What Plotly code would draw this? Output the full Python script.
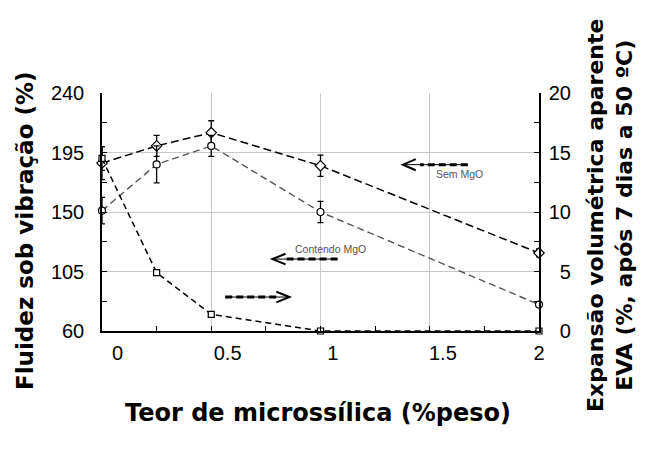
import plotly.graph_objects as go

# ---- data ----
microssilica = [0, 0.25, 0.5, 1.0, 2.0]
fluidez_sem_mgo = [187, 200, 210, 185, 119]
fluidez_sem_mgo_err = [12.5, 8, 9, 8, 3]
fluidez_com_mgo = [151, 186, 200, 150, 80]
fluidez_com_mgo_err = [10, 14, 8, 8, 2]
eva = [14.5, 4.9, 1.4, 0, 0]
eva_err = [1.0, 0.2, 0.1, 0, 0]

x_tick_text = ["0", "0.5", "1", "1.5", "2"]
x_tick_label_pos = [0.071, 0.575, 1.056, 1.56, 2.0]
y_left_ticks = [60, 105, 150, 195, 240]
y_right_ticks = [0, 5, 10, 15, 20]
y_right_text = ["\u00a0\u00a00", "\u00a0\u00a05", "10", "15", "20"]

TICK_FONT = dict(family="Liberation Sans, Arial, sans-serif", size=20, color="black")
TITLE_FONT = dict(family="DejaVu Sans, sans-serif", size=22, color="black")
YTITLE_FONT = dict(family="DejaVu Sans, sans-serif", size=23, color="black")
XTITLE_FONT = dict(family="DejaVu Sans, sans-serif", size=24, color="black")

fig = go.Figure()

fig.add_trace(go.Scatter(
    x=microssilica, y=fluidez_sem_mgo, mode="lines+markers",
    line=dict(color="black", width=1.5, dash="8px,4px"),
    marker=dict(symbol="diamond", size=8, color="white", line=dict(color="black", width=1.2)),
    error_y=dict(type="data", array=fluidez_sem_mgo_err, color="black", thickness=1.3, width=3),
    cliponaxis=False, showlegend=False))

fig.add_trace(go.Scatter(
    x=microssilica, y=fluidez_com_mgo, mode="lines+markers",
    line=dict(color="#555555", width=1.4, dash="7px,4px"),
    marker=dict(symbol="circle", size=7, color="white", line=dict(color="black", width=1.2)),
    error_y=dict(type="data", array=fluidez_com_mgo_err, color="black", thickness=1.3, width=3),
    cliponaxis=False, showlegend=False))

fig.add_trace(go.Scatter(
    x=microssilica, y=eva, mode="lines+markers", yaxis="y2",
    line=dict(color="black", width=1.5, dash="6px,4px"),
    marker=dict(symbol="square", size=6, color="white", line=dict(color="black", width=1.2)),
    error_y=dict(type="data", array=eva_err, color="black", thickness=1.3, width=3),
    cliponaxis=False, showlegend=False))

# carrier trace for the label axis
fig.add_trace(go.Scatter(x=[], y=[], xaxis="x2", showlegend=False, hoverinfo="skip"))

# ---- arrows (data coords of left axis) ----
def arrow(x_tail, x_tip, y, x_dash_end, x_arm, dy):
    return [
        dict(type="line", xref="x", yref="y", x0=x_tail, x1=x_tip, y0=y, y1=y,
             line=dict(color="black", width=1)),
        dict(type="line", xref="x", yref="y", x0=x_tail, x1=x_dash_end, y0=y, y1=y,
             line=dict(color="black", width=3, dash="7px,4px")),
        dict(type="path", xref="x", yref="y",
             path=f"M {x_arm} {y + dy} L {x_tip} {y} L {x_arm} {y - dy}",
             line=dict(color="black", width=2)),
    ]

shapes = []
shapes += arrow(1.674, 1.377, 185.8, 1.455, 1.436, 4.2)
shapes += arrow(1.078, 0.78, 114.4, 0.84, 0.84, 4.0)
shapes += arrow(0.564, 0.858, 85.7, 0.80, 0.798, 4.0)

annotations = [
    dict(x=1.638, y=178.7, xref="x", yref="y", text="Sem MgO", showarrow=False,
         font=dict(family="Liberation Sans, Arial", size=10.5, color="#555555")),
    dict(x=1.046, y=122, xref="x", yref="y", text="Contendo MgO", showarrow=False,
         font=dict(family="Liberation Sans, Arial", size=10.5, color="#555555")),
    dict(x=0, y=0.5, xref="paper", yref="paper", xshift=-77, yshift=-19,
         text="<b>Fluidez sob vibração (%)</b>", textangle=-90, showarrow=False,
         xanchor="center", yanchor="middle", font=YTITLE_FONT),
    dict(x=1, y=0.5, xref="paper", yref="paper", xshift=71, yshift=-4,
         text="<b>Expansão volumétrica aparente<br>EVA (%, após 7 dias a 50 ºC)</b>",
         textangle=-90, showarrow=False, xanchor="center", yanchor="middle", font=TITLE_FONT),
    dict(x=0.5, y=0, xref="paper", yref="paper", xshift=-3, yshift=-82,
         text="<b>Teor de microssílica (%peso)</b>", showarrow=False,
         xanchor="center", yanchor="middle", font=XTITLE_FONT),
]

fig.update_layout(
    width=643, height=444,
    margin=dict(l=94, r=112, t=85, b=121),
    paper_bgcolor="white", plot_bgcolor="white",
    shapes=shapes, annotations=annotations,
    xaxis=dict(range=[0, 2], dtick=0.5, tick0=0, showticklabels=False,
               ticks="inside", ticklen=5, tickcolor="black",
               minor=dict(dtick=0.25, ticks="inside", ticklen=5, tickcolor="black", showgrid=False),
               showgrid=True, gridcolor="#c8c8c8", gridwidth=1,
               showline=True, linecolor="black", linewidth=1.5, zeroline=False),
    xaxis2=dict(range=[0, 2], overlaying="x", anchor="y", side="bottom",
                tickmode="array", tickvals=x_tick_label_pos, ticktext=x_tick_text,
                ticks="", showgrid=False, showline=False, zeroline=False,
                tickfont=TICK_FONT, ticklabelstandoff=8),
    yaxis=dict(range=[60, 240], tickmode="array", tickvals=y_left_ticks,
               ticks="inside", ticklen=5, tickcolor="black",
               minor=dict(dtick=22.5, tick0=60, ticks="inside", ticklen=5, tickcolor="black", showgrid=False),
               showgrid=True, gridcolor="#c8c8c8", gridwidth=1,
               showline=True, linecolor="black", linewidth=1.5, zeroline=False,
               tickfont=TICK_FONT, ticklabelstandoff=12),
    yaxis2=dict(range=[0, 20], overlaying="y", side="right", anchor="x",
                tickmode="array", tickvals=y_right_ticks, ticktext=y_right_text,
                ticks="inside", ticklen=5, tickcolor="black",
                minor=dict(dtick=2.5, tick0=0, ticks="inside", ticklen=5, tickcolor="black", showgrid=False),
                showgrid=False, showline=True, linecolor="black", linewidth=1.5, zeroline=False,
                tickfont=TICK_FONT, ticklabelstandoff=4),
)

fig.write_html("out.html")
